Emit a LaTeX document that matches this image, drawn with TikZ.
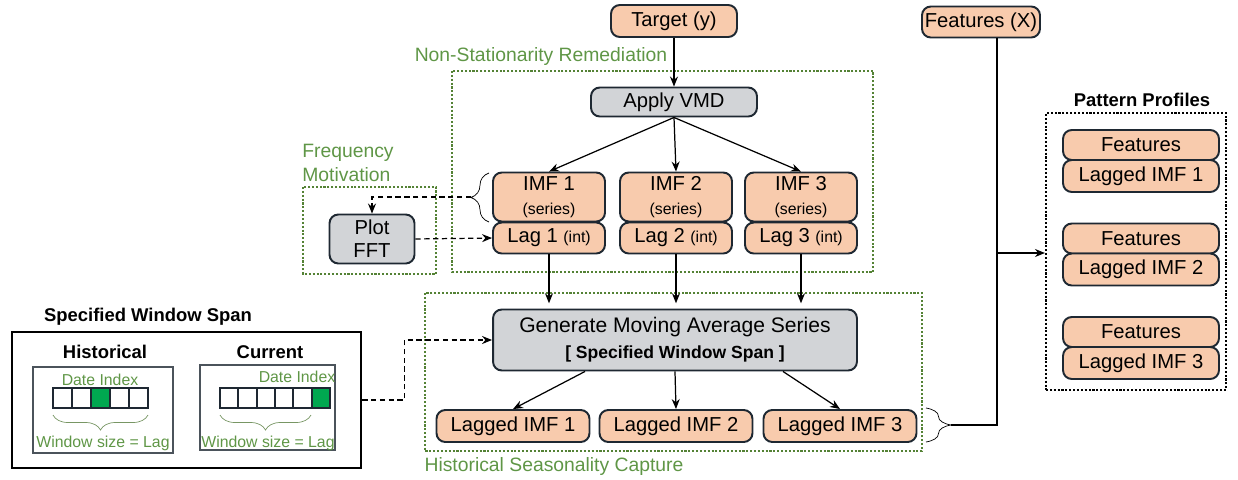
\documentclass[tikz,border=0pt]{standalone}
\usepackage{fontspec}
\setmainfont{Liberation Sans}
\usepackage{tikz}
\usetikzlibrary{arrows.meta,positioning,calc,decorations.pathreplacing}
\definecolor{salmon}{RGB}{248,203,173}
\definecolor{greyfill}{RGB}{210,212,215}
\definecolor{edge}{RGB}{30,40,50}
\definecolor{dotgreen}{RGB}{84,130,53}
\definecolor{labgreen}{RGB}{95,150,70}
\definecolor{cellgreen}{RGB}{0,168,80}
\definecolor{bracegreen}{RGB}{120,150,100}
\tikzset{
  box/.style={draw=edge,line width=1.1pt,rounded corners=5pt,fill=salmon,
    align=center,inner sep=1pt,font=\fontsize{11.5}{13.5}\selectfont},
  graybox/.style={box,fill=greyfill},
  frame/.style={draw=dotgreen,densely dotted,line width=1.2pt},
  lbl/.style={text=labgreen,font=\fontsize{11}{13.7}\selectfont},
  small/.style={text=labgreen,font=\fontsize{9}{11}\selectfont},
  head/.style={font=\bfseries\fontsize{10.5}{12}\selectfont},
  cell/.style={draw=edge,line width=1.3pt},
  brc/.style={decorate,thin},
  every node/.style={inner sep=1pt}
}
\tikzstyle{arr} = [line width=0.7pt,->,>={Stealth[length=2mm,width=1.6mm]}]
\tikzstyle{dashdd} = [arr,densely dashed]
\newcommand{\sm}[1]{{\fontsize{9}{10}\selectfont #1}}

\begin{document}
\begin{tikzpicture}[x=0.02cm,y=-0.02cm]
  \useasboundingbox (0,0) rectangle (1238,480);

  % inputs
  \node[box,minimum width=2.52cm,minimum height=0.64cm] (target) at (674,21) {Target (y)};
  \node[box,minimum width=2.36cm,minimum height=0.62cm] (featx) at (981,22) {Features (X)};

  % non-stationarity remediation
  \draw[frame] (452,71) rectangle (873,272);
  \node[lbl] (nsrlbl) at (541,57) {Non-Stationarity Remediation};
  \node[graybox,minimum width=3.32cm,minimum height=0.58cm] (vmd) at (674,102) {Apply VMD};
  \draw[arr] (target) -- (vmd);
  \foreach \i/\x in {1/549,2/676,3/801}{
    \node[box,minimum width=2.24cm,minimum height=0.98cm] (imf\i) at (\x,197) {IMF \i\\\sm{(series)}};
    \node[box,minimum width=2.24cm,minimum height=0.62cm] (lag\i) at (\x,238) {Lag \i\ \sm{(int)}};
    \draw[arr] (vmd.south) -- (imf\i.north);
  }

  % frequency motivation
  \draw[frame] (303,187) rectangle (436,274);
  \node[lbl,align=left] (fmlbl) at (348,163) {Frequency\\Motivation};
  \node[graybox,minimum width=1.7cm,minimum height=0.98cm,font=\fontsize{11.5}{13}\selectfont] (fft) at (372,239) {Plot\\FFT};
  \draw[brc,decoration={brace,amplitude=0.36cm}] (489,222) -- (489,173);
  \coordinate (imfbr) at (471,197);
  \draw[dashdd] (imfbr) -| (fft.north);
  \draw[dashdd] (fft.east) -- (lag1.west);

  % historical seasonality capture
  \draw[frame] (425,293) rectangle (922,451);
  \node[lbl] (hsclbl) at (554,466) {Historical Seasonality Capture};
  \node[graybox,minimum width=7.28cm,minimum height=1.22cm,font=\fontsize{12}{14.8}\selectfont] (gen) at (675,340)
    {Generate Moving Average Series\\{\bfseries\fontsize{10}{12}\selectfont [ Specified Window Span ]}};
  \foreach \i in {1,2,3}
    \draw[arr,shorten >=3pt] (lag\i.south) -- (lag\i.south |- gen.north);
  \foreach \i/\x in {1/513,2/676,3/840}
    \node[box,minimum width=3.06cm,minimum height=0.64cm] (lagged\i) at (\x,426) {Lagged IMF \i};
  \draw[arr] ([xshift=-1.8cm]gen.south) -- (lagged1.north);
  \draw[arr] (gen.south) -- (lagged2.north);
  \draw[arr] ([xshift=2.16cm]gen.south) -- (lagged3.north);

  % features bus
  \draw[brc,decoration={brace,amplitude=0.5cm}] (926,408) -- (926,442);
  \coordinate (lagbr) at (951,425);
  \coordinate (bus) at (997,253);
  \draw[line width=0.7pt] (lagbr) -| (bus) -- (bus |- featx.south);

  % pattern profiles
  \node[head] (pplbl) at (1142,100) {Pattern Profiles};
  \node[draw,densely dotted,line width=1.2pt,minimum width=3.6cm,minimum height=5.54cm] (profile) at (1136,251.5) {};
  \draw[arr] (bus) -- (bus -| profile.west);
  \foreach \i/\y in {1/145,2/238.5,3/332}{
    \node[box,minimum width=3.12cm,minimum height=0.6cm] (pfeat\i) at (1141,\y) {Features};
    \node[box,minimum width=3.12cm,minimum height=0.64cm] (plag\i) at (1141,\y+31) {Lagged IMF \i};
  }

  % specified window span
  \node[head] (spanlbl) at (148,317) {Specified Window Span};
  \node[draw,line width=1.5pt,minimum width=6.98cm,minimum height=2.72cm] (span) at (186.5,400) {};
  \draw[dashdd] (span.east) -- ++(42,0) |- (gen.west);
  \node[head] (histlbl) at (105,352) {Historical};
  \node[head] (curlbl) at (270,352) {Current};
  \draw[edge!80,line width=0.8pt] (33,367) rectangle (173,453);
  \draw[edge!80,line width=0.8pt] (200,365) rectangle (335,450);
  \node[small] (histdate) at (100,380) {Date Index};
  \node[small] (curdate) at (297,377) {Date Index};
  \fill[cellgreen] (91,388) rectangle ++(19,20);
  \fill[cellgreen] (311.7,388) rectangle ++(18.3,20);
  \foreach \k in {0,...,4}
    \draw[cell] (53+\k*19,388) rectangle ++(19,20);
  \foreach \k in {0,...,5}
    \draw[cell] (220+\k*18.33,388) rectangle ++(18.33,20);
  \draw[brc,draw=bracegreen,decoration={brace,amplitude=0.3cm}] (148,415) -- (53,415);
  \draw[brc,draw=bracegreen,decoration={brace,amplitude=0.3cm}] (311,415) -- (220,415);
  \node[small] (histwin) at (103,443) {Window size = Lag};
  \node[small] (curwin) at (268,443) {Window size = Lag};
\end{tikzpicture}
\end{document}
